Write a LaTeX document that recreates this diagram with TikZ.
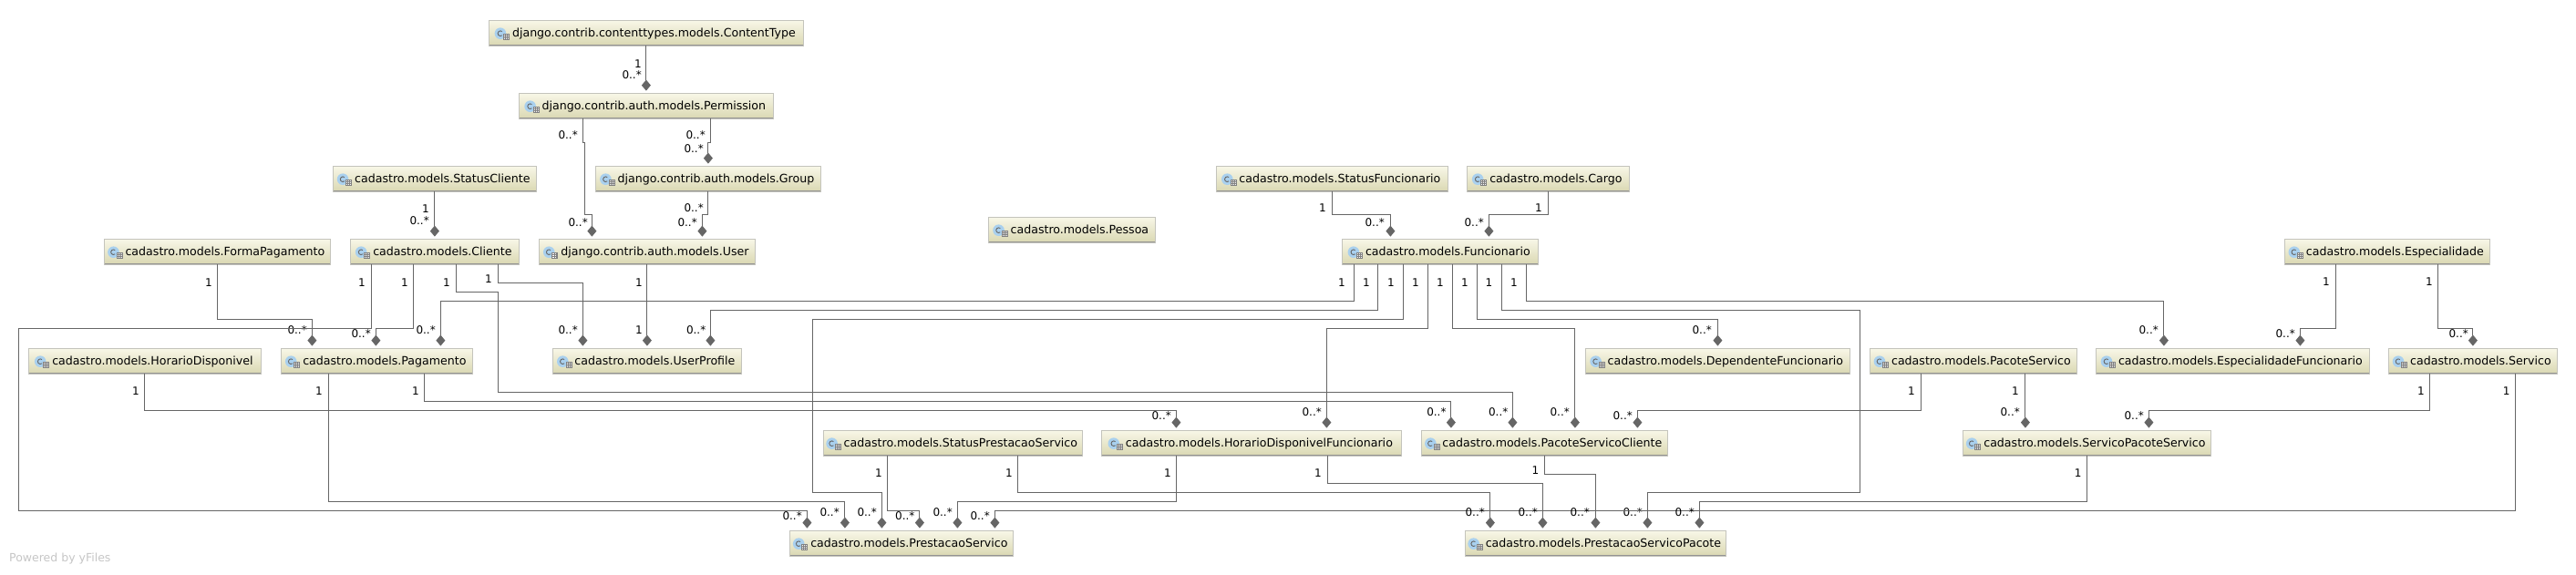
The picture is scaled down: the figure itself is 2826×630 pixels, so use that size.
\documentclass[tikz,border=0pt]{standalone}
\usepackage{fontspec}
\setmainfont{DejaVu Sans}
\usepackage{tikz}
\usetikzlibrary{arrows.meta}
\definecolor{nodetop}{HTML}{F8F7E8}
\definecolor{nodebot}{HTML}{DAD8B2}
\definecolor{nodeline}{HTML}{C4C4BC}
\definecolor{linegray}{HTML}{666666}
\definecolor{iconblue}{HTML}{A9D0EE}
\tikzset{
  cls/.style={anchor=west,draw=nodeline,line width=.8pt,top color=nodetop,bottom color=nodebot,
    minimum height=28pt,inner xsep=0pt,inner ysep=0pt,font=\fontsize{12.6}{14}\selectfont,
    text height=10pt,text depth=2pt,
    execute at begin node={\hskip17pt},
    path picture={
      \begin{scope}[shift={(path picture bounding box.west)}]
      \fill[iconblue] (3.9,-3.3) circle (6.3);
      \draw[linegray,line width=.9pt] (5.7,-1.16) arc (50:310:2.8);
      \draw[gray,fill=white,line width=.6pt] (7.4,-2.3) rectangle (13.4,3.7);
      \draw[gray,line width=.5pt] (7.4,-.3) -- (13.4,-.3) (7.4,1.7) -- (13.4,1.7) (9.4,-2.3) -- (9.4,3.7) (11.4,-2.3) -- (11.4,3.7);
      \end{scope}
      \draw[gray!85,line width=2pt] (path picture bounding box.south west) -- (path picture bounding box.south east);
    }},
  assoc/.style={draw=linegray,line width=1pt,shorten >=2pt,-{Diamond[length=12pt,width=10pt,fill=linegray]}},
  card/.style={anchor=east,inner sep=0pt,font=\fontsize{12}{14}\selectfont}
}
\begin{document}
\begin{tikzpicture}[x=1pt,y=-1pt]
\useasboundingbox (0,0) rectangle (2826,630);
% classes
\node[cls,minimum width=345pt] (ContentType) at (536,36) {django.contrib.contenttypes.models.ContentType};
\node[cls,minimum width=279pt] (Permission) at (569,116) {django.contrib.auth.models.Permission};
\node[cls,minimum width=223pt] (StatusCliente) at (365,196) {cadastro.models.StatusCliente};
\node[cls,minimum width=247pt] (Group) at (653,196) {django.contrib.auth.models.Group};
\node[cls,minimum width=248pt] (FormaPagamento) at (114,276) {cadastro.models.FormaPagamento};
\node[cls,minimum width=185pt] (Cliente) at (384,276) {cadastro.models.Cliente};
\node[cls,minimum width=237pt] (User) at (591,276) {django.contrib.auth.models.User};
\node[cls,minimum width=255pt] (HorarioDisponivel) at (31,396) {cadastro.models.HorarioDisponivel};
\node[cls,minimum width=210pt] (Pagamento) at (308,396) {cadastro.models.Pagamento};
\node[cls,minimum width=207pt] (UserProfile) at (606,396) {cadastro.models.UserProfile};
\node[cls,minimum width=245pt] (PrestacaoServico) at (866,596) {cadastro.models.PrestacaoServico};
\node[cls,minimum width=284pt] (StatusPrestacaoServico) at (903,486) {cadastro.models.StatusPrestacaoServico};
\node[cls,minimum width=254pt] (StatusFuncionario) at (1334,196) {cadastro.models.StatusFuncionario};
\node[cls,minimum width=178pt] (Cargo) at (1609,196) {cadastro.models.Cargo};
\node[cls,minimum width=183pt] (Pessoa) at (1084,252) {cadastro.models.Pessoa};
\node[cls,minimum width=215pt] (Funcionario) at (1472,276) {cadastro.models.Funcionario};
\node[cls,minimum width=290pt] (DependenteFuncionario) at (1739,396) {cadastro.models.DependenteFuncionario};
\node[cls,minimum width=329pt] (HorarioDisponivelFuncionario) at (1208,486) {cadastro.models.HorarioDisponivelFuncionario};
\node[cls,minimum width=270pt] (PacoteServicoCliente) at (1559,486) {cadastro.models.PacoteServicoCliente};
\node[cls,minimum width=286pt] (PrestacaoServicoPacote) at (1607,596) {cadastro.models.PrestacaoServicoPacote};
\node[cls,minimum width=225pt] (Especialidade) at (2506,276) {cadastro.models.Especialidade};
\node[cls,minimum width=227pt] (PacoteServico) at (2051,396) {cadastro.models.PacoteServico};
\node[cls,minimum width=300pt] (EspecialidadeFuncionario) at (2299,396) {cadastro.models.EspecialidadeFuncionario};
\node[cls,minimum width=185pt] (Servico) at (2620,396) {cadastro.models.Servico};
\node[cls,minimum width=272pt] (ServicoPacoteServico) at (2153,486) {cadastro.models.ServicoPacoteServico};
\node[anchor=west,inner sep=0pt,text=gray!45,font=\fontsize{12.5}{14}\selectfont] (poweredby) at (10,613) {Powered by yFiles};
% django
\draw[assoc] (ContentType.south) -- (Permission.north);
\node[card] (ctA) at (704,70) {1};
\node[card] (ctB) at (704,82) {0..*};
\draw[assoc] ([xshift=-69.5pt]Permission.south) -- ++(0,26) -- ++(2,0) -- ++(0,79) -| ([xshift=-60.5pt]User.north);
\node[card] (puA) at (634,148) {0..*};
\node[card] (puB) at (645,244) {0..*};
\draw[assoc] ([xshift=70.5pt]Permission.south) -- ++(0,26) -- ++(-3,0) -| (Group.north);
\node[card] (pgA) at (774,148) {0..*};
\node[card] (pgB) at (772,163) {0..*};
\draw[assoc] (Group.south) -- ++(0,25) -| ([xshift=60.5pt]User.north);
\node[card] (guA) at (772,228) {0..*};
\node[card] (guB) at (765,244) {0..*};
\draw[assoc] (User.south) -- (UserProfile.north);
\node[card] (uuA) at (705,310) {1};
\node[card] (uuB) at (705,362) {1};
% cliente
\draw[assoc] (StatusCliente.south) -- (Cliente.north);
\node[card] (scA) at (471,229) {1};
\node[card] (scB) at (471,242) {0..*};
\draw[assoc] (FormaPagamento.south) -- ++(0,60) -| ([xshift=-71pt]Pagamento.north);
\node[card] (fpA) at (233,310) {1};
\node[card] (fpB) at (337,362) {0..*};
\draw[assoc] ([xshift=-69.5pt]Cliente.south) -- ++(0,70) -- ++(-386.5,0) -- ++(0,200) -| ([xshift=-103.5pt]PrestacaoServico.north);
\node[card] (clA) at (401,310) {1};
\node[card] (clB) at (880,566) {0..*};
\draw[assoc] ([xshift=-23.5pt]Cliente.south) -- ++(0,70) -| ([xshift=-1pt]Pagamento.north);
\node[card] (clC) at (448,310) {1};
\node[card] (clD) at (407,366) {0..*};
\draw[assoc] ([xshift=23.5pt]Cliente.south) -- ++(0,30) -- ++(46,0) -- ++(0,110) -| ([xshift=-35pt]PacoteServicoCliente.north);
\node[card] (clE) at (494,310) {1};
\node[card] (clF) at (1654.5,452) {0..*};
\draw[assoc] ([xshift=69.5pt]Cliente.south) -- ++(0,20) -| ([xshift=-70.5pt]UserProfile.north);
\node[card] (clG) at (540,306) {1};
\node[card] (clH) at (634,362) {0..*};
% funcionario
\draw[assoc] (StatusFuncionario.south) -- ++(0,25) -| ([xshift=-54.5pt]Funcionario.north);
\node[card] (sfA) at (1455,228) {1};
\node[card] (sfB) at (1519,244) {0..*};
\draw[assoc] (Cargo.south) -- ++(0,25) -| ([xshift=53.5pt]Funcionario.north);
\node[card] (caA) at (1692,228) {1};
\node[card] (caB) at (1628,244) {0..*};
\draw[assoc] ([xshift=-94.5pt]Funcionario.south) -- ++(0,40) -| ([xshift=70pt]Pagamento.north);
\node[card] (fuA) at (1476,310) {1};
\node[card] (fuB) at (478,362) {0..*};
\draw[assoc] ([xshift=-68pt]Funcionario.south) -- ++(0,50) -| ([xshift=69.5pt]UserProfile.north);
\node[card] (fuC) at (1503,310) {1};
\node[card] (fuD) at (774.5,362) {0..*};
\draw[assoc] ([xshift=-40.5pt]Funcionario.south) -- ++(0,60) -- ++(-647.5,0) -- ++(0,190) -| ([xshift=-21.5pt]PrestacaoServico.north);
\node[card] (fuE) at (1530,310) {1};
\node[card] (fuF) at (962,562) {0..*};
\draw[assoc] ([xshift=-13.5pt]Funcionario.south) -- ++(0,70) -| ([xshift=82.5pt]HorarioDisponivelFuncionario.north);
\node[card] (fuG) at (1557,310) {1};
\node[card] (fuH) at (1450,452) {0..*};
\draw[assoc] ([xshift=13.5pt]Funcionario.south) -- ++(0,70) -| ([xshift=33.5pt]PacoteServicoCliente.north);
\node[card] (fuI) at (1584,310) {1};
\node[card] (fuJ) at (1722,452) {0..*};
\draw[assoc] ([xshift=40.5pt]Funcionario.south) -- ++(0,60) -| (DependenteFuncionario.north);
\node[card] (fuK) at (1611,310) {1};
\node[card] (fuL) at (1878,362) {0..*};
\draw[assoc] ([xshift=67.5pt]Funcionario.south) -- ++(0,50) -- ++(393,0) -- ++(0,200) -| ([xshift=57pt]PrestacaoServicoPacote.north);
\node[card] (fuM) at (1637.5,310) {1};
\node[card] (fuN) at (1802,562) {0..*};
\draw[assoc] ([xshift=94.5pt]Funcionario.south) -- ++(0,40) -| ([xshift=-75.5pt]EspecialidadeFuncionario.north);
\node[card] (fuO) at (1665,310) {1};
\node[card] (fuP) at (2368,362) {0..*};
% pagamento, horario
\draw[assoc] (HorarioDisponivel.south) -- ++(0,40) -| ([xshift=-82.5pt]HorarioDisponivelFuncionario.north);
\node[card] (hdA) at (153,429) {1};
\node[card] (hdB) at (1285,456) {0..*};
\draw[assoc] ([xshift=-53pt]Pagamento.south) -- ++(0,140) -| ([xshift=-62pt]PrestacaoServico.north);
\node[card] (paA) at (354,429) {1};
\node[card] (paB) at (921,562) {0..*};
\draw[assoc] ([xshift=52.5pt]Pagamento.south) -- ++(0,30) -| ([xshift=-102.5pt]PacoteServicoCliente.north);
\node[card] (paC) at (460,429) {1};
\node[card] (paD) at (1586.7,452) {0..*};
% pacote, especialidade, servico
\draw[assoc] ([xshift=-57pt]PacoteServico.south) -- ++(0,40) -| ([xshift=102pt]PacoteServicoCliente.north);
\node[card] (psA) at (2101,429) {1};
\node[card] (psB) at (1791,456) {0..*};
\draw[assoc] ([xshift=57pt]PacoteServico.south) -- ([xshift=-67.5pt]ServicoPacoteServico.north);
\node[card] (psC) at (2215,429) {1};
\node[card] (psD) at (2216,452) {0..*};
\draw[assoc] ([xshift=-56.5pt]Especialidade.south) -- ++(0,70) -| ([xshift=74pt]EspecialidadeFuncionario.north);
\node[card] (esA) at (2556,309) {1};
\node[card] (esB) at (2518,366) {0..*};
\draw[assoc] ([xshift=56pt]Especialidade.south) -- ++(0,70) -| (Servico.north);
\node[card] (esC) at (2669,309) {1};
\node[card] (esD) at (2708,366) {0..*};
\draw[assoc] ([xshift=-47pt]Servico.south) -- ++(0,40) -| ([xshift=68pt]ServicoPacoteServico.north);
\node[card] (seA) at (2660,429) {1};
\node[card] (seB) at (2352,456) {0..*};
\draw[assoc] ([xshift=47pt]Servico.south) -- ++(0,150) -| ([xshift=102.5pt]PrestacaoServico.north);
\node[card] (seC) at (2753.6,429) {1};
\node[card] (seD) at (1086,566) {0..*};
\draw[assoc] (ServicoPacoteServico.south) -- ++(0,50) -| ([xshift=114pt]PrestacaoServicoPacote.north);
\node[card] (spA) at (2283.6,519) {1};
\node[card] (spB) at (1859,562) {0..*};
% prestacao
\draw[assoc] ([xshift=-72pt]StatusPrestacaoServico.south) -- ++(0,60) -| ([xshift=20pt]PrestacaoServico.north);
\node[card] (stA) at (968,519) {1};
\node[card] (stB) at (1003.6,566) {0..*};
\draw[assoc] ([xshift=71pt]StatusPrestacaoServico.south) -- ++(0,40) -| ([xshift=-115.5pt]PrestacaoServicoPacote.north);
\node[card] (stC) at (1111,519) {1};
\node[card] (stD) at (1629,562) {0..*};
\draw[assoc] ([xshift=-82.5pt]HorarioDisponivelFuncionario.south) -- ++(0,50) -| ([xshift=61.5pt]PrestacaoServico.north);
\node[card] (hfA) at (1285,519) {1};
\node[card] (hfB) at (1045,562) {0..*};
\draw[assoc] ([xshift=83.5pt]HorarioDisponivelFuncionario.south) -- ++(0,30) -| ([xshift=-58pt]PrestacaoServicoPacote.north);
\node[card] (hfC) at (1450,519) {1};
\node[card] (hfD) at (1687,562) {0..*};
\draw[assoc] (PacoteServicoCliente.south) -- ++(0,20) -| (PrestacaoServicoPacote.north);
\node[card] (pcA) at (1688.5,516) {1};
\node[card] (pcB) at (1744,562) {0..*};
\end{tikzpicture}
\end{document}
